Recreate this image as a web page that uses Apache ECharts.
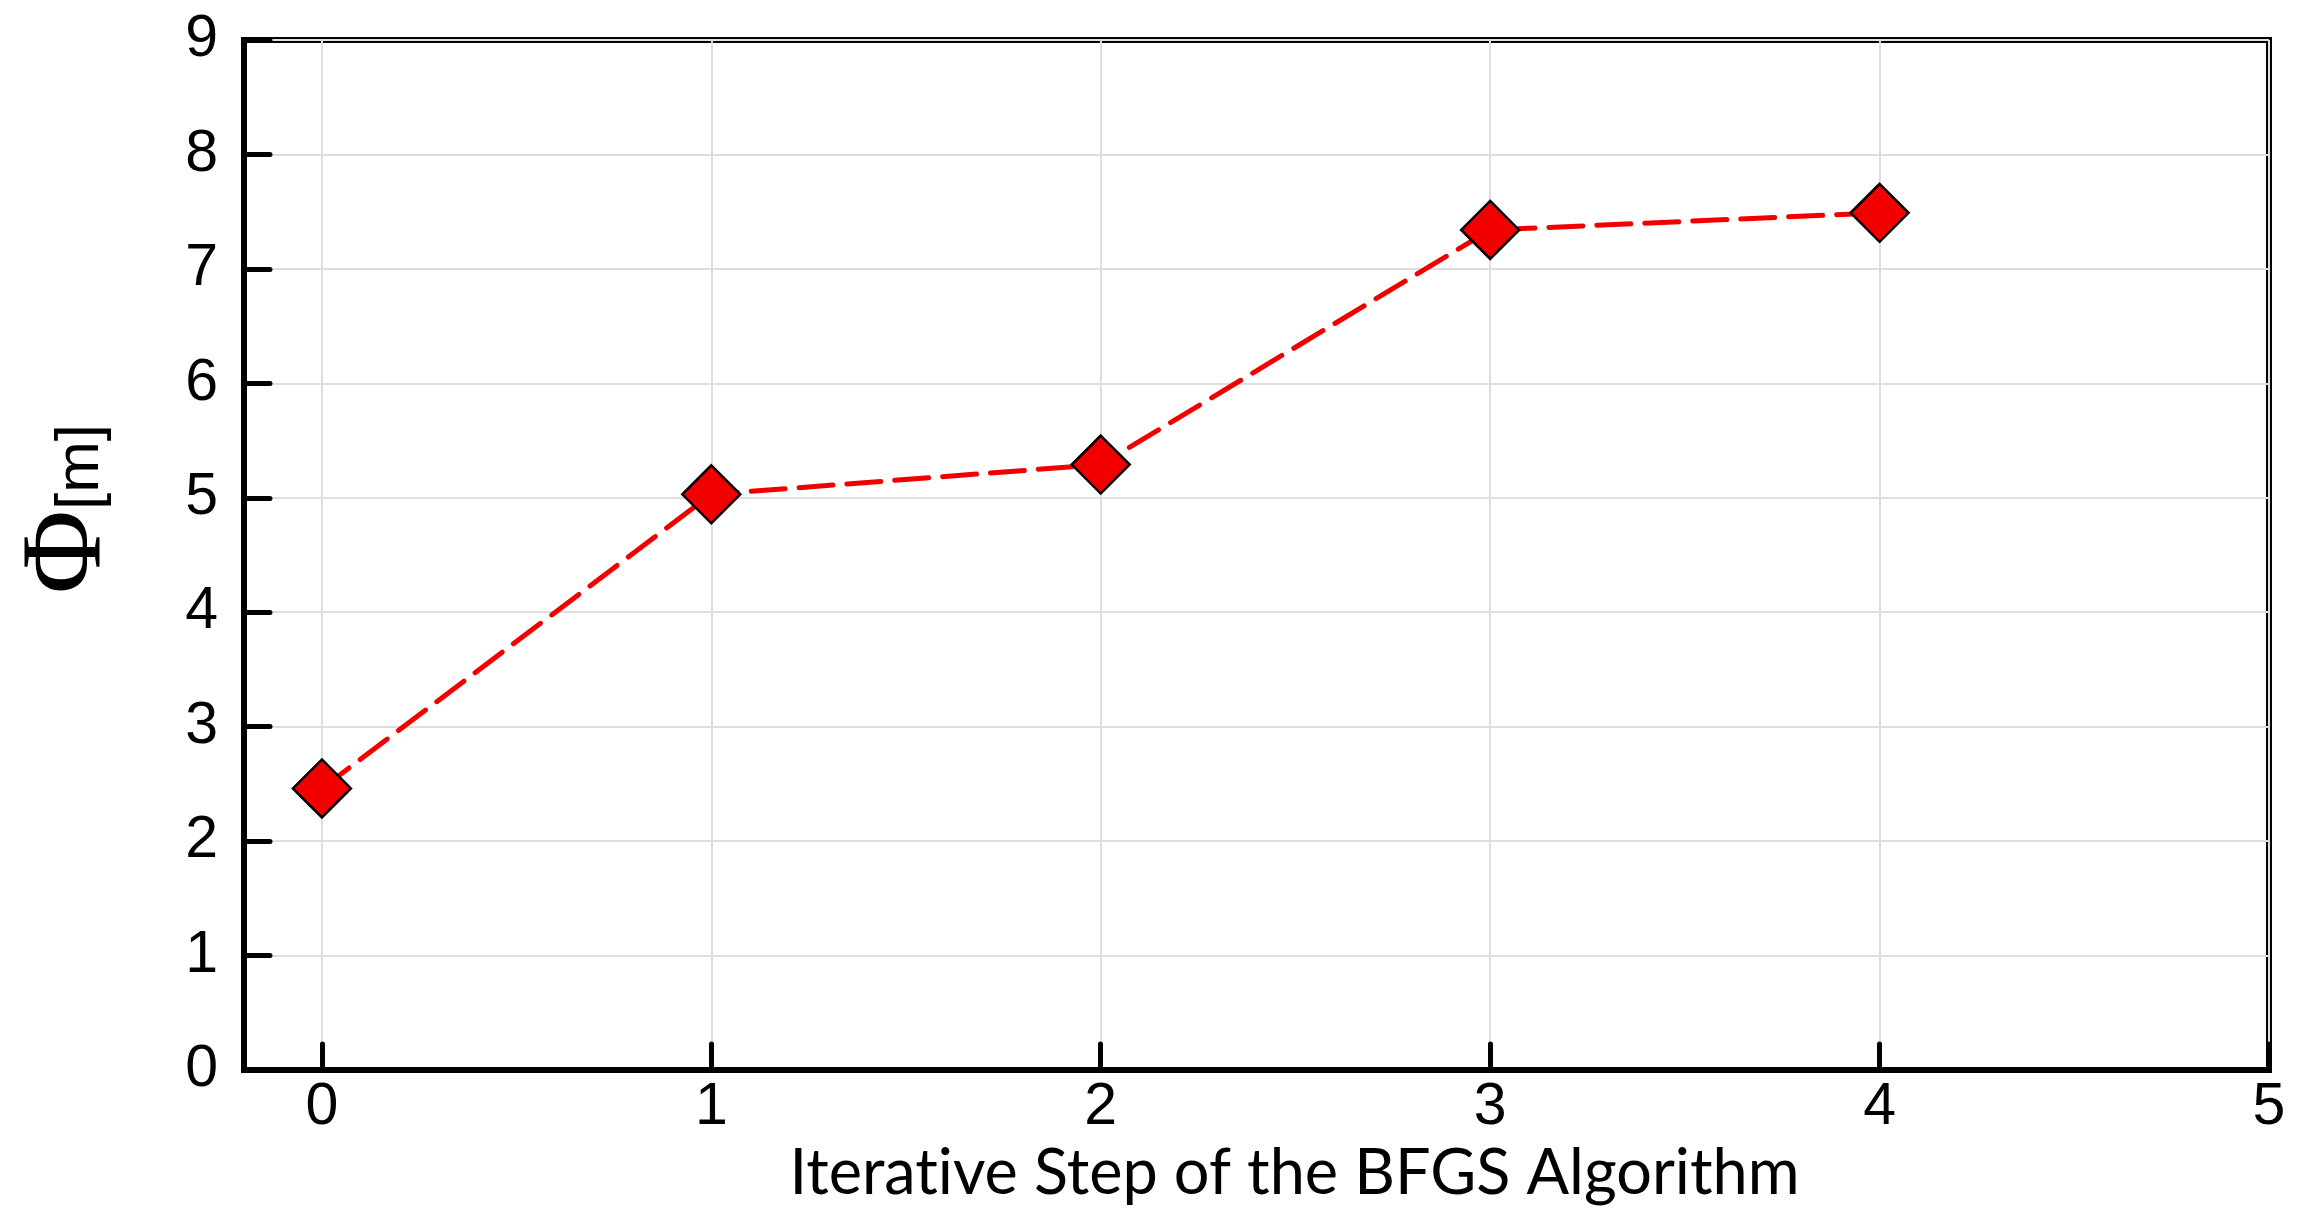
<!DOCTYPE html>
<html>
<head>
<meta charset="utf-8">
<script src="https://cdn.jsdelivr.net/npm/echarts@6/dist/echarts.min.js"></script>
<style>
  html, body { margin: 0; padding: 0; background: #fff; }
  #chart { width: 2302px; height: 1222px; }
</style>
</head>
<body>
<div id="chart"></div>
<script>
// BFGS iteration steps and objective value
const steps = [0, 1, 2, 3, 4]
const phiValues = [2.46, 5.03, 5.29, 7.34, 7.49]
const yTicks = [0, 1, 2, 3, 4, 5, 6, 7, 8, 9]

const chart = echarts.init(document.getElementById('chart'))

const red = '#f20000'
const axisFont = 'Liberation Sans, Arial, sans-serif'

const option = {
  backgroundColor: '#fff',
  animation: false,
  grid: {
    left: 244,
    right: 33,
    top: 40,
    bottom: 152,
    show: true,
    borderColor: '#000',
    borderWidth: 6
  },
  xAxis: {
    type: 'value',
    min: -0.2,
    max: 5,
    minInterval: 1,
    // zero-width non-joiner keeps Lato from drawing the "ti" ligature
    name: 'Iterat\u200Cive Step of the BFGS Algorithm',
    nameLocation: 'middle',
    nameGap: 66,
    nameTextStyle: {
      fontFamily: 'Lato, sans-serif',
      fontSize: 63,
      color: '#000',
      padding: [0, 0, 0, 76]
    },
    axisLine: { onZero: false, lineStyle: { color: '#000', width: 6 } },
    axisTick: { inside: true, length: 26, lineStyle: { color: '#000', width: 5, cap: 'round' } },
    axisLabel: {
      margin: 8,
      fontFamily: axisFont,
      fontSize: 59,
      color: '#000',
      formatter: v => (Number.isInteger(v) ? String(v) : '')
    },
    splitLine: { show: true, lineStyle: { color: '#dedede', width: 2 } }
  },
  yAxis: {
    type: 'value',
    min: yTicks[0],
    max: yTicks[yTicks.length - 1],
    interval: 1,
    name: '{phi|Φ}{unit|[m]}',
    nameLocation: 'middle',
    nameRotate: 90,
    nameGap: 118,
    nameTextStyle: {
      padding: [0, 0, 0, 92],
      rich: {
        phi: { fontFamily: 'Liberation Serif, Times New Roman, serif', fontSize: 115, color: '#000', verticalAlign: 'bottom' },
        unit: { fontFamily: axisFont, fontSize: 62, color: '#000', verticalAlign: 'bottom', padding: [0, 0, 14, 0] }
      }
    },
    axisLine: { onZero: false, lineStyle: { color: '#000', width: 6 } },
    axisTick: { inside: true, length: 26, lineStyle: { color: '#000', width: 5, cap: 'round' } },
    axisLabel: {
      margin: 26,
      fontFamily: axisFont,
      fontSize: 59,
      color: '#000'
    },
    splitLine: { show: true, lineStyle: { color: '#dedede', width: 2 } }
  },
  series: [{
    type: 'line',
    data: steps.map((s, i) => [s, phiValues[i]]),
    symbol: 'diamond',
    symbolSize: 58,
    lineStyle: { color: red, width: 5, type: [34, 14], cap: 'round' },
    itemStyle: { color: red, borderColor: '#000', borderWidth: 2.5 },
    z: 5
  }]
}

chart.setOption(option)
</script>
</body>
</html>
